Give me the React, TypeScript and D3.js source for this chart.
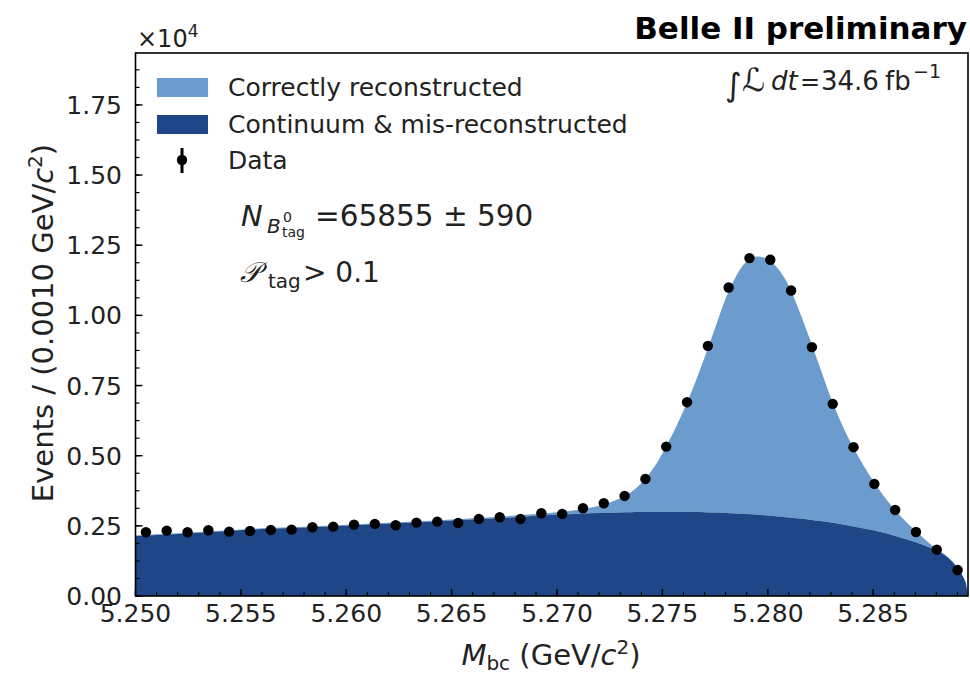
import * as d3 from "d3"

// Binning of the Mbc histogram (40 bins)
const binLow = 5.25
const binHigh = 5.2895
const nBins = 40

// Data points (events per bin)
const dataCounts = [
  2272, 2329, 2272, 2343, 2293, 2318, 2354, 2364, 2450, 2471,
  2543, 2568, 2521, 2614, 2650, 2603, 2746, 2806, 2746, 2949,
  2924, 3127, 3306, 3566, 4172, 5324, 6907, 8915, 10994, 12042,
  11982, 10887, 8869, 6847, 5303, 3994, 3067, 2282, 1651, 927,
]

// Fit curves sampled along Mbc
const fitMass = [
  5.25, 5.252, 5.254, 5.256, 5.258, 5.26, 5.262, 5.264, 5.266, 5.268,
  5.27, 5.271, 5.272, 5.273, 5.2735, 5.274, 5.2745, 5.275, 5.2755, 5.276,
  5.2765, 5.277, 5.2775, 5.278, 5.2785, 5.279, 5.2795, 5.28, 5.2805, 5.281,
  5.2815, 5.282, 5.2825, 5.283, 5.2835, 5.284, 5.2845, 5.285, 5.2855, 5.286,
  5.2865, 5.287, 5.2875, 5.288, 5.2885, 5.289, 5.2893, 5.2894, 5.2895,
]
const fitBackground = [
  2140, 2210, 2300, 2385, 2445, 2507, 2580, 2650, 2725, 2810,
  2900, 2935, 2960, 2980, 2988, 2995, 2998, 3000, 3001, 3000,
  2993, 2985, 2973, 2960, 2942, 2920, 2897, 2870, 2837, 2800,
  2762, 2720, 2672, 2620, 2558, 2490, 2418, 2340, 2250, 2150,
  2040, 1920, 1780, 1620, 1400, 1000, 640, 450, 0,
]
const fitTotal = [
  2160, 2232, 2324, 2410, 2472, 2536, 2612, 2686, 2768, 2866,
  2985, 3075, 3220, 3480, 3700, 4020, 4480, 5080, 5800, 6600,
  7500, 8500, 9550, 10600, 11400, 11930, 12100, 12000, 11650, 11050,
  10150, 9150, 8100, 7050, 6150, 5380, 4700, 4100, 3560, 3100,
  2690, 2330, 1990, 1680, 1420, 1010, 645, 452, 0,
]

const xTicks = [5.25, 5.255, 5.26, 5.265, 5.27, 5.275, 5.28, 5.285]
const yTicks = [0, 2500, 5000, 7500, 10000, 12500, 15000, 17500]
const yMax = 19350

const lightBlue = "#6b9ccd"
const darkBlue = "#1f4787"
const font = "DejaVu Sans"

const W = 970
const H = 675
const plot = { left: 135.5, right: 968, top: 53, bottom: 596 }

export default function App() {
  const x = d3.scaleLinear().domain([binLow, binHigh]).range([plot.left, plot.right])
  const y = d3.scaleLinear().domain([0, yMax]).range([plot.bottom, plot.top])

  const binWidth = (binHigh - binLow) / nBins
  const points = dataCounts.map((v, i) => ({ m: binLow + (i + 0.5) * binWidth, v }))

  const fit = fitMass.map((m, i) => ({ m, bkg: fitBackground[i], tot: fitTotal[i] }))

  const bkgArea = d3
    .area<{ m: number; bkg: number; tot: number }>()
    .x((d) => x(d.m))
    .y0(y(0))
    .y1((d) => y(d.bkg))
    .curve(d3.curveMonotoneX)

  const sigArea = d3
    .area<{ m: number; bkg: number; tot: number }>()
    .x((d) => x(d.m))
    .y0((d) => y(d.bkg))
    .y1((d) => y(d.tot))
    .curve(d3.curveMonotoneX)

  const xMinor = d3.range(0, 40).map((i) => binLow + i * 0.001).filter((v) => v < binHigh)
  const yMinor = d3.range(0, 32).map((i) => i * 625).filter((v) => v < yMax)

  return (
    <svg
      width={W}
      height={H}
      style={{ position: "absolute", left: 0, top: 0, background: "white" }}
      fontFamily={font}
    >
      <defs>
        <clipPath id="plotclip">
          <rect x={plot.left} y={plot.top} width={plot.right - plot.left} height={plot.bottom - plot.top} />
        </clipPath>
      </defs>

      <g clipPath="url(#plotclip)">
        <path d={sigArea(fit) || ""} fill={lightBlue} />
        <path d={bkgArea(fit) || ""} fill={darkBlue} />
        {points.map((p, i) => (
          <circle key={i} cx={x(p.m)} cy={y(p.v)} r={5.2} fill="black" />
        ))}
      </g>

      {/* minor ticks */}
      {xMinor.map((t, i) => (
        <line key={"xm" + i} x1={x(t)} x2={x(t)} y1={plot.bottom} y2={plot.bottom - 4} stroke="black" strokeWidth={1.2} />
      ))}
      {yMinor.map((t, i) => (
        <line key={"ym" + i} x1={plot.left} x2={plot.left + 4} y1={y(t)} y2={y(t)} stroke="black" strokeWidth={1.2} />
      ))}

      {/* major ticks + labels */}
      {xTicks.map((t) => (
        <g key={"x" + t}>
          <line x1={x(t)} x2={x(t)} y1={plot.bottom} y2={plot.bottom - 7} stroke="black" strokeWidth={1.4} />
          <text x={x(t)} y={622} fontSize={25} textAnchor="middle" fill="#222">
            {t.toFixed(3)}
          </text>
        </g>
      ))}
      {yTicks.map((t) => (
        <g key={"y" + t}>
          <line x1={plot.left} x2={plot.left + 7} y1={y(t)} y2={y(t)} stroke="black" strokeWidth={1.4} />
          <text x={122} y={y(t) + 9} fontSize={25} textAnchor="end" fill="#222">
            {(t / 10000).toFixed(2)}
          </text>
        </g>
      ))}

      {/* frame */}
      <rect
        x={plot.left}
        y={plot.top}
        width={plot.right - plot.left}
        height={plot.bottom - plot.top}
        fill="none"
        stroke="black"
        strokeWidth={1.6}
      />

      {/* offset text */}
      <text x={137} y={47} fontSize={24} fill="#222">
        ×10<tspan dy={-10} fontSize={17}>4</tspan>
      </text>

      {/* title */}
      <text x={967} y={39} fontSize={31} fontWeight="bold" textAnchor="end" fill="black">
        Belle II preliminary
      </text>

      {/* luminosity */}
      <text x={725} y={96} fontSize={32} fill="#222">∫</text>
      <text x={742} y={91} fontSize={32} fill="#222">ℒ</text>
      <text x={771} y={90} fontSize={26} fontStyle="italic" fill="#222">dt</text>
      <text x={800} y={90} fontSize={24} fill="#222">=</text>
      <text x={821} y={90} fontSize={26} fill="#222">34.6</text>
      <text x={885} y={90} fontSize={26} fill="#222">fb</text>
      <text x={913} y={78} fontSize={19} fill="#222">−1</text>

      {/* axis titles */}
      <text
        transform={`translate(53,323) rotate(-90)`}
        fontSize={29}
        textAnchor="middle"
        fill="#222"
      >
        Events / (0.0010 GeV/<tspan fontStyle="italic">c</tspan>
        <tspan dy={-11} fontSize={20}>2</tspan>
        <tspan dy={11}>)</tspan>
      </text>
      <text x={551} y={665} fontSize={29} textAnchor="middle" fill="#222">
        <tspan fontStyle="italic">M</tspan>
        <tspan dy={5} fontSize={20}>bc</tspan>
        <tspan dy={-5}> (GeV/</tspan>
        <tspan fontStyle="italic">c</tspan>
        <tspan dy={-11} fontSize={20}>2</tspan>
        <tspan dy={11}>)</tspan>
      </text>

      {/* legend */}
      <rect x={157} y={78} width={51} height={19} fill={lightBlue} />
      <rect x={157} y={115} width={51} height={19} fill={darkBlue} />
      <line x1={182} x2={182} y1={148} y2={173} stroke="black" strokeWidth={3} />
      <circle cx={182} cy={160} r={5.2} fill="black" />
      <text x={228} y={96} fontSize={25} fill="#222">Correctly reconstructed</text>
      <text x={228} y={133} fontSize={25} fill="#222">Continuum &amp; mis-reconstructed</text>
      <text x={228} y={169} fontSize={25} fill="#222">Data</text>

      {/* yield annotation */}
      <text x={241} y={226} fontSize={29} fontStyle="italic" fill="#222">N</text>
      <text x={267} y={233} fontSize={20} fontStyle="italic" fill="#222">B</text>
      <text x={283} y={222} fontSize={14} fill="#222">0</text>
      <text x={282} y={237} fontSize={14} fill="#222">tag</text>
      <text x={315} y={226} fontSize={29.5} fill="#222">=65855 ± 590</text>

      <text x={240} y={282} fontSize={28} fontStyle="italic" fill="#222">𝒫</text>
      <text x={268} y={288} fontSize={20} fill="#222">tag</text>
      <text x={303} y={282} fontSize={28} fill="#222">&gt; 0.1</text>
    </svg>
  )
}
